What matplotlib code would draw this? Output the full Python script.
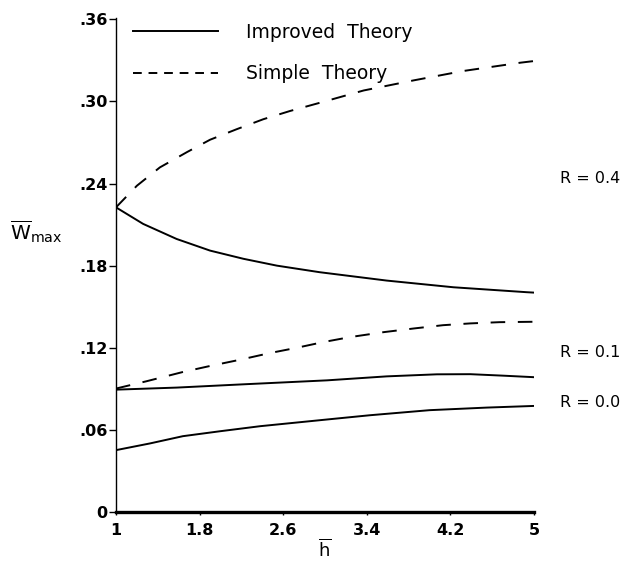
import numpy as np
import matplotlib
matplotlib.use("Agg")
import matplotlib.pyplot as plt
from matplotlib.lines import Line2D

# Datos (h barra vs W max barra)
h_sim04 = [1.0, 1.20, 1.42, 1.68, 1.90, 2.155, 2.41, 2.665, 2.95, 3.37, 3.85, 4.32, 4.87, 5.0]
w_simple_04 = [0.2226, 0.2384, 0.2518, 0.2630, 0.2720, 0.2797, 0.2870, 0.2930, 0.2990,
               0.3080, 0.3154, 0.3222, 0.3283, 0.3295]

h_imp04 = [1.0, 1.26, 1.58, 1.90, 2.22, 2.54, 2.95, 3.59, 4.23, 4.93, 5.0]
w_improved_04 = [0.2226, 0.2105, 0.1995, 0.1910, 0.1850, 0.1800, 0.1752, 0.1691, 0.1642,
                 0.1606, 0.1603]

h_sim01 = [1.0, 1.29, 1.64, 1.90, 2.19, 2.47, 2.73, 2.98, 3.24, 3.56, 3.85, 4.13, 4.39, 4.67, 5.0]
w_simple_01 = [0.0902, 0.0955, 0.1023, 0.1067, 0.1113, 0.1161, 0.1200, 0.1241, 0.1278,
               0.1314, 0.1341, 0.1365, 0.1378, 0.1387, 0.1390]

h_imp01 = [1.0, 1.58, 2.22, 3.02, 3.59, 4.07, 4.39, 4.71, 5.0]
w_improved_01 = [0.0894, 0.0909, 0.0933, 0.0962, 0.0991, 0.1006, 0.1007, 0.0996, 0.0985]

h_imp00 = [1.0, 1.325, 1.64, 1.995, 2.38, 3.02, 3.43, 4.00, 4.55, 5.0]
w_improved_00 = [0.0452, 0.0501, 0.0554, 0.0590, 0.0627, 0.0676, 0.0707, 0.0744, 0.0763, 0.0775]

x_ticks = [1, 1.8, 2.6, 3.4, 4.2, 5]
x_labels = ["1", "1.8", "2.6", "3.4", "4.2", "5"]
y_ticks = [0, 0.06, 0.12, 0.18, 0.24, 0.30, 0.36]
y_labels = ["0", ".06", ".12", ".18", ".24", ".30", ".36"]

r_labels = ["R = 0.4", "R = 0.1", "R = 0.0"]
r_pos = [0.244, 0.1166, 0.0802]

plt.rcParams["font.family"] = ["DejaVu Sans"]

fig = plt.figure(figsize=(6.25, 5.64), dpi=100)
ax = fig.add_axes([0.1856, 0.0922, 0.6688, 0.876])

lw_s = 1.4
lw_d = 1.4
dash = (0, (7.5, 6.5))
ax.plot(h_imp04, w_improved_04, color="black", linewidth=lw_s)
ax.plot(h_sim04, w_simple_04, color="black", linewidth=lw_d, linestyle=dash)
ax.plot(h_sim01, w_simple_01, color="black", linewidth=lw_d, linestyle=dash)
ax.plot(h_imp01, w_improved_01, color="black", linewidth=lw_s)
ax.plot(h_imp00, w_improved_00, color="black", linewidth=lw_s)

ax.set_xlim(1, 5)
ax.set_ylim(0, 0.361)
ax.spines["top"].set_visible(False)
ax.spines["right"].set_visible(False)
ax.spines["bottom"].set_linewidth(2.4)
ax.spines["left"].set_linewidth(1.0)

ax.set_xticks(x_ticks)
ax.set_xticklabels(x_labels, fontsize=11.5, fontweight="bold")
ax.set_yticks(y_ticks)
ax.set_yticklabels(y_labels, fontsize=11.5, fontweight="bold")
ax.tick_params(axis="y", direction="out", length=5, width=1, pad=1)
ax.tick_params(axis="x", direction="out", length=2, width=1, pad=6)

ax.set_xlabel(r"$\overline{\mathrm{h}}$", fontsize=13, labelpad=0)
ax.text(-0.254, 0.205, r"$\overline{\mathrm{W}}_{\mathrm{max}}$", fontsize=14.5,
        transform=ax.get_yaxis_transform(), ha="left", va="center", clip_on=False)

for lab, yv in zip(r_labels, r_pos):
    ax.text(5.25, yv, lab, fontsize=11.5, ha="left", va="center", clip_on=False)

# leyenda con muestras de linea propias
handles = [Line2D([], [], color="black", linewidth=lw_s),
           Line2D([], [], color="black", linewidth=lw_d, linestyle=(0, (4.5, 3.5)))]
ax.legend(handles, ["Improved  Theory", "Simple  Theory"], loc="upper left",
          bbox_to_anchor=(0.041, 0.99), frameon=False, borderpad=0, borderaxespad=0,
          fontsize=13.5, handlelength=4.5, handletextpad=1.5, labelspacing=1.2)

fig.savefig("out.png", dpi=100)
